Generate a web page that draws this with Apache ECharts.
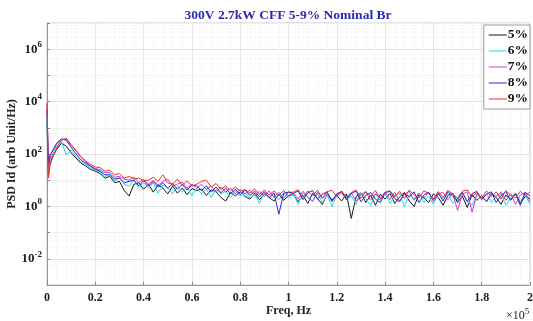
<!DOCTYPE html>
<html>
<head>
<meta charset="utf-8">
<script src="https://cdn.jsdelivr.net/npm/echarts@6/dist/echarts.min.js"></script>
<style>html,body{margin:0;padding:0;background:#fff}#c{width:533px;height:321px}</style>
</head>
<body>
<div id="c"></div>
<script>
// Frequency grid in kHz
var freqKHz = [0,0.6,1.2,
 2,4,6,8,10,12,14,16,18,20,
 22,24,26,28,30,32,34,36,38,40,
 42,44,46,48,50,52,54,56,58,60,
 62,64,66,68,70,72,74,76,78,80,
 82,84,86,88,90,92,94,96,98,100,
 102,104,106,108,110,112,114,116,118,120,
 122,124,126,128,130,132,134,136,138,140,
 142,144,146,148,150,152,154,156,158,160,
 162,164,166,168,170,172,174,176,178,180,
 182,184,186,188,190,192,194,196,198,200];

var seriesNames = ['5%','6%','7%','8%','9%'];
var seriesColors = ['#1a1a1a','#19dede','#d23cd2','#2a2ad8','#e8342c'];

var psd5 = [1500,15,40,
 70,150,260,200,110,70,45,35,26,22,
 18,12,14,8,9,4,2.5,7,8,4.5,
 7,3.5,6.5,5,3,6,3.2,5,2.8,4.8,
 4,4.6,2.6,4.3,3.6,2.2,1.6,3.4,2.5,3.6,
 2.4,1.9,3.2,1.8,3.0,2.2,1.6,2.9,1.7,2.6,
 2.8,1.5,2.6,1.3,3.2,2.0,1.2,2.9,1.8,2.6,
 1.6,3.0,0.35,2.4,3.3,1.4,2.7,1.1,2.9,1.9,
 3.1,1.3,2.3,3.4,1.6,1.0,2.8,2.2,1.4,3.0,
 2.2,1.1,2.6,3.2,1.4,2.5,0.9,2.8,1.7,2.6,
 1.5,3.0,2.2,1.2,2.7,1.8,3.0,1.3,2.4,2.0];

var psd6 = [2000,20,55,
 85,190,300,90,140,80,50,40,30,24,
 20,13,18,9,13,7,6,10,5,8,
 5,8,3.2,6.5,5,3,6,3.5,5.5,2.6,
 5,3,4.5,2.2,4.4,3,3.8,2.1,4,2.5,
 3.3,2.1,2.9,1.3,3.3,2,3,1.8,3.2,2.1,
 3.0,1.2,3.4,2.2,1.5,3.1,1.4,2.8,1.0,2.7,
 3.2,1.8,2.5,1.2,3.3,2.0,1.1,2.9,1.7,3.1,
 1.3,2.6,3.2,1.0,2.8,1.9,3.3,1.4,2.5,1.2,
 3.0,2.0,3.2,1.3,2.4,3.3,1.6,1.1,2.8,2.0,
 3.1,1.4,2.5,3.0,1.1,2.2,3.2,1.6,2.7,1.2];

var psd7 = [8000,30,70,
 110,230,340,380,210,130,75,50,35,28,
 25,19,20,13,14,11,10,13,8,11,
 7,10,6.5,9,11,6,7,8.5,5,7,
 5,7,4.5,6,3.6,5.5,3.5,5,3,4.5,
 3,4.2,2.6,3.8,2.4,3.9,2.2,3.5,2,3.6,
 3.4,1.9,3.8,2.2,1.6,3.5,2.0,3.2,1.5,3.0,
 3.6,1.8,3.3,1.6,2.8,3.7,1.7,3.1,2.2,3.5,
 1.8,3.4,1.6,2.9,3.8,1.7,3.1,2.0,3.5,1.5,
 3.1,3.4,1.8,3.2,0.7,2.9,3.6,0.6,3.0,2.2,
 1.6,3.3,2.4,3.6,1.7,3.0,1.2,2.7,3.4,1.5];

var psd8 = [5000,40,90,
 120,260,380,330,180,100,60,45,34,26,
 22,16,16,11,12,8,9,10,6,9.5,
 6,9,5.5,8,5,7.5,4.5,7,4.2,6.5,
 6,4,6,3.5,5.5,3.3,5,3,4.6,2.8,
 4.2,2.6,3.8,2.3,3.6,2.2,3.3,0.5,3.2,3.5,
 3.1,3.9,1.8,3.3,4.0,1.9,2.9,3.6,1.6,3.0,
 3.7,1.8,3.1,3.9,1.5,2.6,3.4,1.9,1.4,3.3,
 3.8,2.0,1.5,3.2,2.3,3.6,1.4,2.7,3.5,1.8,
 3.2,1.6,3.7,2.4,1.7,3.5,1.5,3.0,3.8,1.8,
 2.9,3.6,1.4,2.6,3.7,1.7,3.1,1.1,3.4,2.5];

var psd9 = [9000,12,35,
 60,170,340,400,230,140,80,55,40,32,
 30,22,24,16,18,12,14,11,12,9.5,
 10,13,9,16,8,7,11,6.5,9.5,6,
 7,9,10,5.5,7.5,4.5,6,4,5.5,3.8,
 4.4,3.2,4.6,2.9,4.2,2.7,3.9,2.6,4,2.5,
 3.6,4.3,2.2,3.9,2.5,4.2,2.1,3.7,4.1,2.4,
 3.9,2.2,3.4,4.2,2.0,3.6,2.5,4.0,1.9,3.5,
 4.0,2.3,3.8,2.0,4.2,2.8,2.1,3.9,3.2,1.9,
 3.7,2.2,4.1,3.0,2.0,3.8,4.3,2.3,3.4,2.1,
 3.9,2.4,3.6,1.9,4.0,2.7,2.1,3.8,2.4,3.6];

var allPsd = [psd5, psd6, psd7, psd8, psd9];

var xTickLabels = ['0','0.2','0.4','0.6','0.8','1','1.2','1.4','1.6','1.8','2'];

var serif = 'Liberation Serif';
var chart = echarts.init(document.getElementById('c'), null, {renderer: 'canvas'});

var series = allPsd.map(function (vals, k) {
  return {
    name: seriesNames[k],
    type: 'line',
    showSymbol: false,
    symbol: 'none',
    animation: false,
    lineStyle: {width: 1, color: seriesColors[k]},
    itemStyle: {color: seriesColors[k]},
    data: freqKHz.map(function (f, i) { return [f * 1000, vals[i]]; })
  };
});

chart.setOption({
  animation: false,
  backgroundColor: '#fff',
  title: {
    text: '300V 2.7kW CFF 5-9% Nominal Br',
    left: 283, top: 4, textAlign: 'center',
    textStyle: {fontFamily: serif, fontWeight: 'bold', fontSize: 13.5, color: '#2a2ab4'}
  },
  grid: {left: 47, right: 3, top: 23, bottom: 36, containLabel: false, outerBoundsMode: 'none',
         show: true, borderColor: '#c8c8c8', borderWidth: 1, backgroundColor: '#fff'},
  legend: {
    orient: 'vertical', right: 3, top: 25,
    data: seriesNames.map(function (n) {
      return {name: n, lineStyle: {opacity: 0.5}, itemStyle: {opacity: 0}};
    }),
    backgroundColor: '#fff', borderColor: '#999', borderWidth: 1,
    padding: [3, 2, 3, 4], itemGap: 2, itemWidth: 18, itemHeight: 13,
    textStyle: {fontFamily: serif, fontWeight: 'bold', fontSize: 13.5, color: '#111', padding: [0, 0, 0, -4]}
  },
  xAxis: {
    type: 'value', min: 0, max: 200000, interval: 20000,
    name: 'Freq, Hz', nameLocation: 'middle', nameGap: 20, nameMoveOverlap: false,
    nameTextStyle: {fontFamily: serif, fontWeight: 'bold', fontSize: 12, color: '#222'},
    axisLine: {show: true, lineStyle: {color: '#999'}},
    axisTick: {show: true, inside: true, length: 3, lineStyle: {color: '#888'}},
    axisLabel: {
      fontFamily: serif, fontWeight: 'bold', fontSize: 12, color: '#222', margin: 7,
      formatter: function (v) { return xTickLabels[Math.round(v / 20000)]; }
    },
    splitLine: {show: true, lineStyle: {color: '#e6e6e6', width: 1}},
    minorTick: {show: false, splitNumber: 5},
    minorSplitLine: {show: true, lineStyle: {color: '#f1f1f1', type: 'dotted'}}
  },
  yAxis: {
    type: 'log', logBase: 10, min: 0.001, max: 10000000, interval: 1, splitNumber: 10,
    name: 'PSD Id (arb Unit/Hz)', nameLocation: 'middle', nameGap: 29, nameMoveOverlap: false,
    nameTextStyle: {fontFamily: serif, fontWeight: 'bold', fontSize: 12, color: '#222'},
    axisLine: {show: true, lineStyle: {color: '#999'}},
    axisTick: {show: true, inside: true, length: 3, lineStyle: {color: '#888'}},
    axisLabel: {
      margin: 5, showMinLabel: true, showMaxLabel: true, hideOverlap: false,
      formatter: function (v) {
        var e = Math.round(Math.log10(v));
        if (e % 2 !== 0) return '';
        return '{b|10}{s|' + e + '}';
      },
      rich: {
        b: {fontFamily: serif, fontWeight: 'bold', fontSize: 13, color: '#222'},
        s: {fontFamily: serif, fontWeight: 'bold', fontSize: 9, color: '#222', padding: [0, 0, 9, 0]}
      }
    },
    splitLine: {show: true, lineStyle: {color: ['#f0f0f0', '#e2e2e2'], width: 1}},
    minorTick: {show: false, splitNumber: 5},
    minorSplitLine: {show: true, lineStyle: {color: '#f5f5f5', type: 'dotted'}}
  },
  graphic: [{
    type: 'text', left: 506, top: 307,
    style: {
      text: '{a|×10}{s|5}',
      rich: {
        a: {fontFamily: serif, fontSize: 12, fill: '#222', fontWeight: 'normal'},
        s: {fontFamily: serif, fontSize: 9, fill: '#222', padding: [0, 0, 8, 0]}
      }
    }
  }],
  series: series
});
</script>
</body>
</html>
